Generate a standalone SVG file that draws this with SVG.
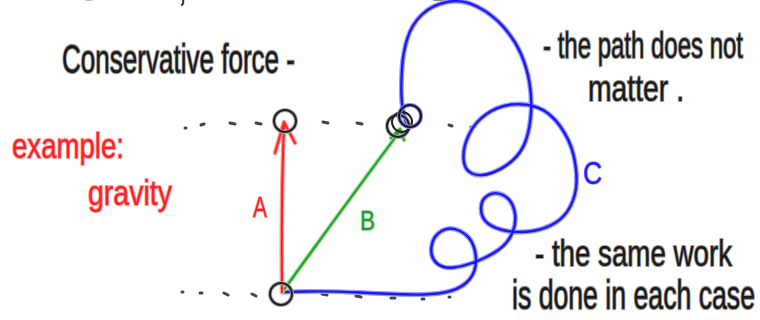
<svg xmlns="http://www.w3.org/2000/svg" width="760" height="320" viewBox="0 0 760 320">
<style>
.hw{font-family:"Liberation Sans",Arial,sans-serif;paint-order:stroke;stroke-linejoin:round}
.blk{fill:#1a1a1a;stroke:#9a9a9a;stroke-width:1.5}
.red{fill:#ff1f1f;stroke:#ff9a9a;stroke-width:1.5}
.grn{fill:#22a022;stroke:#8fd08f;stroke-width:1.4}
.blu{fill:#2020ff;stroke:#9a9aff;stroke-width:1.4}
.dash{stroke:#444;stroke-width:3;stroke-linecap:round;fill:none}
.node{fill:none;stroke:#222;stroke-width:2}
.halo{fill:none;stroke:#aaa;stroke-width:4}
.lnh{fill:none;stroke-linecap:round;stroke-linejoin:round}
</style>

<!-- fragments at top edge -->
<g id="top-fragments">
<path d="M183,0 Q184,3 182,5" class="lnh" stroke="#333" stroke-width="2"/>
<path d="M86,0 L92,0" class="lnh" stroke="#aaa" stroke-width="1.5"/>
<path d="M434,0 L466,0" class="lnh" stroke="#666" stroke-width="1.5"/>
</g>

<!-- dotted guide lines -->
<g id="guides">
<path class="dash" d="M185,128 l1,0 M201,125 l3,-1 M230,123 l5,1 M256,123 l5,1 M323,122 l5,1 M357,123 l5,1 M449,125 l3,1 M471,127 l1,1"/>
<path class="dash" d="M182,292 l1,0 M200,293 l2,0 M224,293 l4,2 M252,294 l4,2 M322,294 l5,1 M356,296 l5,1 M391,298 l4,0 M422,299 l2,0 M449,297 l1,0"/>
</g>

<!-- connectors -->
<g id="connectors">
<g id="path-C">
<path class="lnh" stroke="#9a9aff" stroke-width="5" d="M282,292 L306,291.5 Q330,291 360,292.5 Q390,294 410,294.5 Q430,295 444,292.5 Q458,290 466,283 Q474,276 475.5,266 Q477,256 473.5,246 Q470,236 460,231 Q450,226 441.5,231 Q433,236 431.5,246.5 Q430,257 436.5,263 Q443,269 454,267.5 Q465,266 477.5,261 Q490,256 499,249.5 Q508,243 512.5,232.5 Q517,222 514.5,211 Q512,200 504,195.5 Q496,191 488.5,195 Q481,199 481,208.5 Q481,218 488,223.5 Q495,229 507.5,231 Q520,233 532.5,231 Q545,229 555,223 Q565,217 570.5,206 Q576,195 576.5,182.5 Q577,170 573.5,155 Q570,140 560,126 Q550,112 537.5,107.5 Q525,103 511.5,104.5 Q498,106 486.5,114 Q475,122 469,134.5 Q463,147 463.5,158.5 Q464,170 472,173.5 Q480,177 491.5,173 Q503,169 512.5,160.5 Q522,152 526,140 Q530,128 531,113 Q532,98 529.5,83 Q527,68 521,54 Q515,40 503.5,27 Q492,14 477,6.5 Q462,-1 447,2 Q432,5 422,14.5 Q412,24 407.5,38 Q403,52 402,68.5 Q401,85 401.5,96.5 Q402,108 404,115 L406,122"/>
<path class="lnh" stroke="#1a1af0" stroke-width="2.4" d="M282,292 L306,291.5 Q330,291 360,292.5 Q390,294 410,294.5 Q430,295 444,292.5 Q458,290 466,283 Q474,276 475.5,266 Q477,256 473.5,246 Q470,236 460,231 Q450,226 441.5,231 Q433,236 431.5,246.5 Q430,257 436.5,263 Q443,269 454,267.5 Q465,266 477.5,261 Q490,256 499,249.5 Q508,243 512.5,232.5 Q517,222 514.5,211 Q512,200 504,195.5 Q496,191 488.5,195 Q481,199 481,208.5 Q481,218 488,223.5 Q495,229 507.5,231 Q520,233 532.5,231 Q545,229 555,223 Q565,217 570.5,206 Q576,195 576.5,182.5 Q577,170 573.5,155 Q570,140 560,126 Q550,112 537.5,107.5 Q525,103 511.5,104.5 Q498,106 486.5,114 Q475,122 469,134.5 Q463,147 463.5,158.5 Q464,170 472,173.5 Q480,177 491.5,173 Q503,169 512.5,160.5 Q522,152 526,140 Q530,128 531,113 Q532,98 529.5,83 Q527,68 521,54 Q515,40 503.5,27 Q492,14 477,6.5 Q462,-1 447,2 Q432,5 422,14.5 Q412,24 407.5,38 Q403,52 402,68.5 Q401,85 401.5,96.5 Q402,108 404,115 L406,122"/>
</g>
<g id="path-B">
<path class="lnh" stroke="#9ad89a" stroke-width="4.5" d="M283,291 Q345,205 400,131 M391,138 L400,129 L404,140"/>
<path class="lnh" stroke="#22a022" stroke-width="2" d="M283,291 Q345,205 400,131 M391,138 L400,129 L404,140"/>
</g>
<g id="path-A">
<path class="lnh" stroke="#ff9a9a" stroke-width="4.5" d="M282,292 Q281,200 284,124 M275,153 L284,122 L295,143"/>
<path class="lnh" stroke="#ff1f1f" stroke-width="2" d="M282,292 Q281,200 284,124 M275,153 L284,122 L295,143"/>
</g>
</g>

<!-- nodes -->
<g id="node-start">
<circle class="halo" cx="281" cy="294" r="11"/>
<circle class="node" cx="281" cy="294" r="11"/>
</g>
<g id="node-top-A">
<circle class="halo" cx="285" cy="121" r="11"/>
<circle class="node" cx="285" cy="121" r="11"/>
</g>
<g id="node-top-B">
<circle class="halo" cx="398" cy="126" r="11"/>
<circle class="node" cx="398" cy="126" r="11"/>
<circle class="node" cx="402" cy="122" r="10" stroke="#333"/>
<circle fill="none" stroke="#8888cc" stroke-width="4" cx="410" cy="116" r="11"/>
<circle fill="none" stroke="#10104a" stroke-width="2" cx="410" cy="116" r="11"/>
</g>

<!-- labels -->
<g id="labels">
<text class="hw blk" transform="translate(62,73) scale(1,1.55)" font-size="26" textLength="233" lengthAdjust="spacingAndGlyphs">Conservative force -</text>
<text class="hw blk" transform="translate(543,58) scale(1,1.55)" font-size="24" textLength="200" lengthAdjust="spacingAndGlyphs">- the path does not</text>
<text class="hw blk" transform="translate(588,101) scale(1,1.3)" font-size="28" textLength="96" lengthAdjust="spacingAndGlyphs">matter .</text>
<text class="hw red" transform="translate(12,158) scale(1,1.3)" font-size="27.5" textLength="112" lengthAdjust="spacingAndGlyphs">example:</text>
<text class="hw red" transform="translate(88,205) scale(1,1.25)" font-size="28.5" textLength="84" lengthAdjust="spacingAndGlyphs">gravity</text>
<text class="hw red" x="253" y="217" font-size="30" textLength="14" lengthAdjust="spacingAndGlyphs">A</text>
<text class="hw grn" x="360" y="230" font-size="27" textLength="15" lengthAdjust="spacingAndGlyphs">B</text>
<text class="hw blu" x="583" y="184" font-size="32" textLength="19" lengthAdjust="spacingAndGlyphs">C</text>
<text class="hw blk" transform="translate(535,266) scale(1,1.37)" font-size="27.5" textLength="197" lengthAdjust="spacingAndGlyphs">- the same work</text>
<text class="hw blk" transform="translate(512,309) scale(1,1.5)" font-size="26.5" textLength="243" lengthAdjust="spacingAndGlyphs">is done in each case</text>
</g>
</svg>
